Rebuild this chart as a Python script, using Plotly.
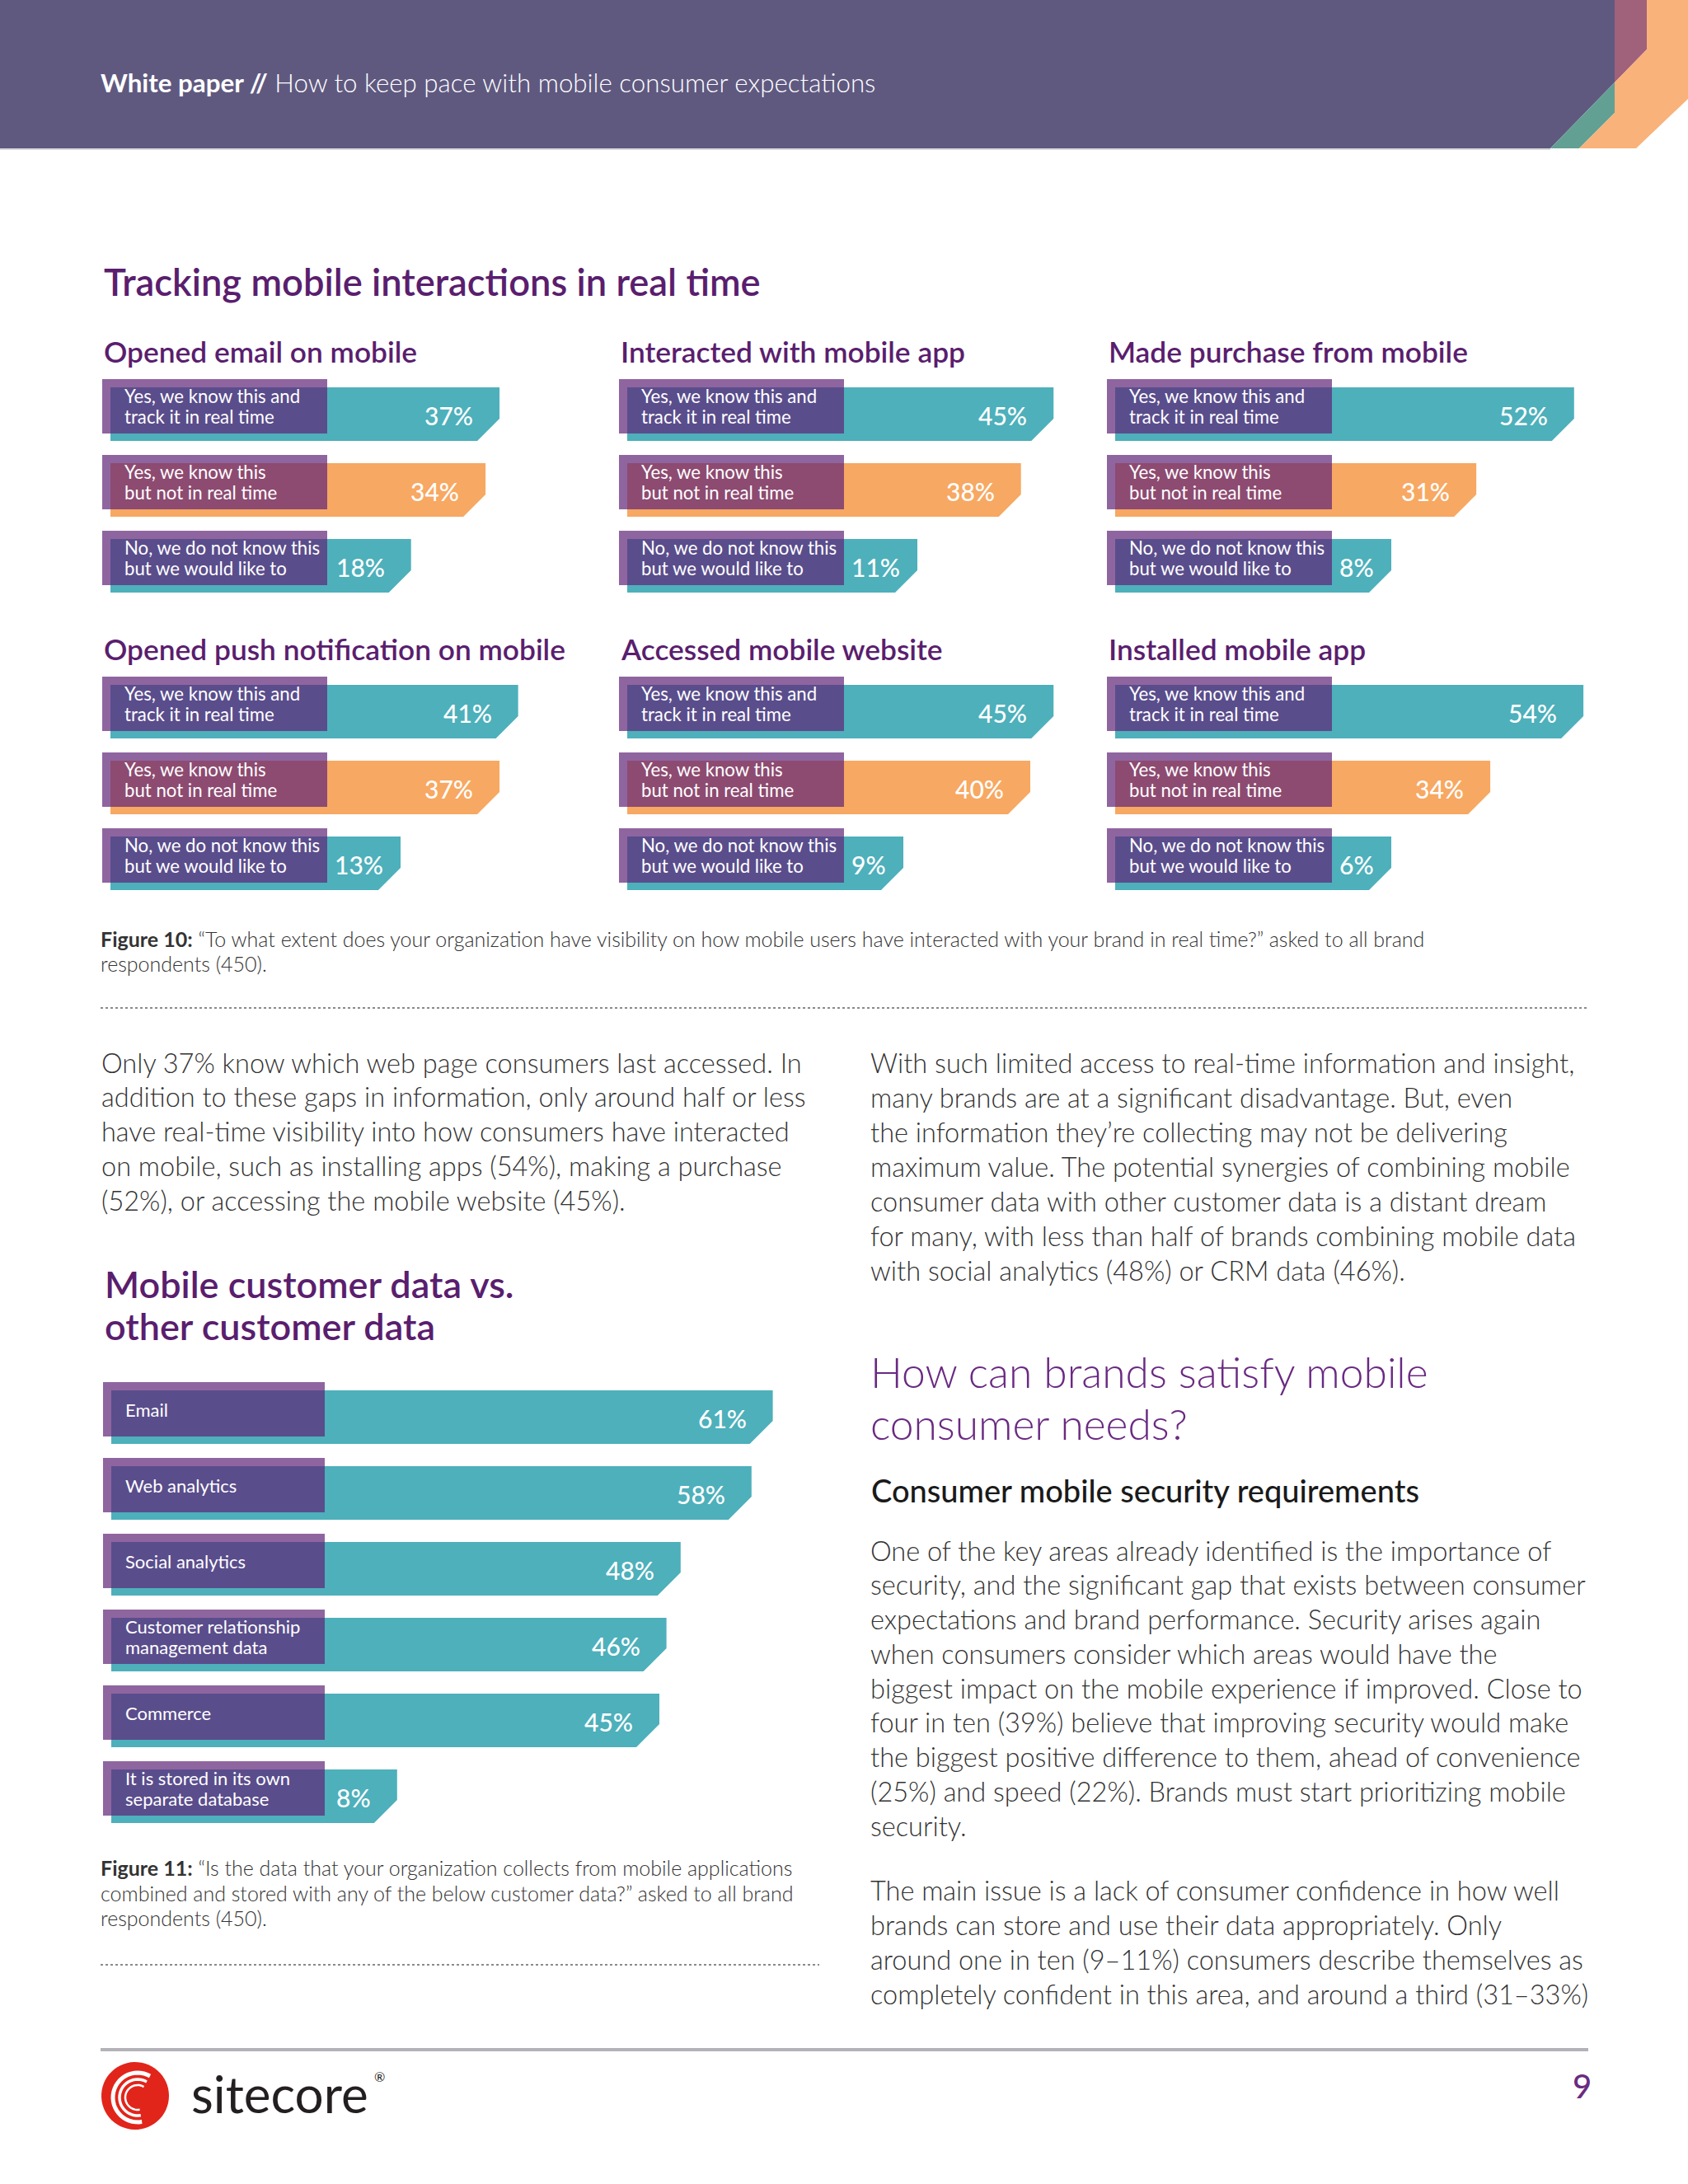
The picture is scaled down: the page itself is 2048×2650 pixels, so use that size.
import numpy as np
import plotly.graph_objects as go

W, H = 2048, 2650

# ---------------- DATA ----------------
panel_titles = ["Opened email on mobile", "Interacted with mobile app", "Made purchase from mobile",
                "Opened push notification on mobile", "Accessed mobile website", "Installed mobile app"]
response_labels = ["Yes, we know this and<br>track it in real time",
                   "Yes, we know this<br>but not in real time",
                   "No, we do not know this<br>but we would like to"]
email_vals = [37, 34, 18]
app_interact_vals = [45, 38, 11]
purchase_vals = [52, 31, 8]
push_vals = [41, 37, 13]
website_vals = [45, 40, 9]
install_vals = [54, 34, 6]
panel_values = [email_vals, app_interact_vals, purchase_vals, push_vals, website_vals, install_vals]

data_categories = ["Email", "Web analytics", "Social analytics",
                   "Customer relationship<br>management data", "Commerce",
                   "It is stored in its own<br>separate database"]
data_vals = [61, 58, 48, 46, 45, 8]

# ---------------- STYLE ----------------
TEAL = "#4DB0BB"
ORANGE = "#F7A862"
BOXC = "rgba(96,35,119,0.70)"
PURPLE = "#5A1E6E"
TXT = "#333333"
FONT = "Lato"
response_colors = [TEAL, ORANGE, TEAL]

fig = go.Figure()
annotations = []
shapes = []


def fx(px):
    return px / W


def fy(py):
    return 1 - py / H


def ptext(x, y, text, size, color=TXT, weight=400, xanchor="left", family=FONT):
    annotations.append(dict(x=fx(x), y=fy(y), xref="paper", yref="paper", text=text,
                            showarrow=False, xanchor=xanchor, yanchor="middle",
                            font=dict(family=family, size=size, color=color, weight=weight)))


def ppoly(pts, color):
    path = "M " + " L ".join(f"{fx(a):.5f},{fy(b):.5f}" for a, b in pts) + " Z"
    shapes.append(dict(type="path", xref="paper", yref="paper", path=path,
                       fillcolor=color, line=dict(width=0), layer="below"))


# ---------------- HEADER ----------------
ppoly([(0, 0), (1959, 0), (1959, 100), (1881, 180), (0, 180)], "#5F5980")
ppoly([(1959, 0), (1998, 0), (1998, 60), (1959, 100)], "#A0617A")
ppoly([(1959, 100), (1959, 137), (1916, 180), (1881, 180)], "#63A094")
ppoly([(1998, 0), (2048, 0), (2048, 120), (1985, 180), (1916, 180), (1959, 137), (1959, 100), (1998, 60)], "#F8B27A")
shapes.append(dict(type="line", xref="paper", yref="paper", x0=0, x1=fx(1881), y0=fy(181), y1=fy(181),
                   line=dict(color="#D8D8DC", width=2), layer="below"))
ptext(120, 100, "<b>White paper //</b> How to keep pace with mobile consumer expectations", 31.3, "white", 300)

# ---------------- CHART BUILDER ----------------
axis_n = [0]


def add_chart(x0_px, scale, box_left, box_right, bar_left, first_bar_top, labels, values, colors,
              chamfer_px, min_rule, label_size, pct_size):
    axis_n[0] += 1
    n = axis_n[0]
    nrows = len(values)
    pitch = 92.0
    bar_h = 65.0
    P0 = box_left - 20
    P1 = x0_px + 72 * scale
    first_center = first_bar_top + bar_h / 2
    Q0 = first_center - 0.7 * pitch
    Q1 = first_center + (nrows - 1 + 0.7) * pitch
    xa = "x" if n == 1 else f"x{n}"
    ya = "y" if n == 1 else f"y{n}"
    fig.layout[f"xaxis{'' if n == 1 else n}"] = dict(domain=[fx(P0), fx(P1)],
                                                      range=[(P0 - x0_px) / scale, (P1 - x0_px) / scale],
                                                      visible=False, fixedrange=True, anchor=ya)
    fig.layout[f"yaxis{'' if n == 1 else n}"] = dict(domain=[fy(Q1), fy(Q0)],
                                                      range=[nrows - 1 + 0.7, -0.7],
                                                      visible=False, fixedrange=True, anchor=xa)
    L = (bar_left - x0_px) / scale
    c = chamfer_px / scale
    for i, (lab, v, col) in enumerate(zip(labels, values, colors)):
        pct = f"{v}%"
        length = v
        pad = 30
        if min_rule:
            min_len = (38 + 17 * len(pct)) / scale
            if v < min_len:
                length = min_len
                pad = 19
        top = i - (bar_h / 2) / pitch
        bot = i + (bar_h / 2) / pitch
        cy = chamfer_px / pitch
        fig.add_trace(go.Scatter(x=[L, length, length, length - c, L, L],
                                 y=[top, top, bot - cy, bot, bot, top],
                                 fill="toself", fillcolor=col, mode="lines", line=dict(width=0),
                                 hoverinfo="skip", xaxis=xa, yaxis=ya, showlegend=False))
        shapes.append(dict(type="rect", xref=xa, yref=ya,
                           x0=(box_left - x0_px) / scale, x1=(box_right - x0_px) / scale,
                           y0=i - 42.5 / pitch, y1=i + 23.5 / pitch,
                           fillcolor=BOXC, line=dict(width=0), layer="above"))
        lines = lab.split("<br>")
        offs = [-22.5, 2.5] if len(lines) == 2 else [-9.5]
        for ln, o in zip(lines, offs):
            annotations.append(dict(x=(box_left + 25 - x0_px) / scale, y=i + o / pitch, xref=xa, yref=ya,
                                    text=ln, showarrow=False, xanchor="left", yanchor="middle",
                                    font=dict(family=FONT, size=label_size, color="white", weight=400)))
        annotations.append(dict(x=length - pad / scale, y=i + 1 / pitch, xref=xa, yref=ya,
                                text=pct, showarrow=False, xanchor="right", yanchor="middle",
                                font=dict(family=FONT, size=pct_size, color="white", weight=500)))


# ---------------- TOP: TRACKING PANELS ----------------
ptext(124, 341, "Tracking mobile interactions in real time", 45.3, PURPLE, 600)
col_x0 = [397, 1024, 1616]
row_title_y = [426, 787]
row_bar_top = [470, 831]
for k in range(6):
    r, cidx = divmod(k, 3)
    x0 = col_x0[cidx]
    ptext(x0 - 273, row_title_y[r], panel_titles[k], 35.3, PURPLE, 600)
    add_chart(x0, 5.65, x0 - 273, x0, x0 - 263, row_bar_top[r], response_labels,
              panel_values[k], response_colors, 27, True, 22.2, 30)

ptext(120, 1139, "<b>Figure 10:</b> “To what extent does your organization have visibility on how mobile users "
                 "have interacted with your brand in real time?” asked to all brand", 25, TXT, 300)
ptext(120, 1169, "respondents (450).", 25, TXT, 300)
shapes.append(dict(type="line", xref="paper", yref="paper", x0=fx(122), x1=fx(1927), y0=fy(1223), y1=fy(1223),
                   line=dict(color="#8A8A8A", width=2, dash="dot"), layer="below"))

# ---------------- BODY TEXT ----------------
left_par = [
    "Only 37% know which web page consumers last accessed. In",
    "addition to these gaps in information, only around half or less",
    "have real-time visibility into how consumers have interacted",
    "on mobile, such as installing apps (54%), making a purchase",
    "(52%), or accessing the mobile website (45%).",
]
right_par1 = [
    "With such limited access to real-time information and insight,",
    "many brands are at a significant disadvantage. But, even",
    "the information they’re collecting may not be delivering",
    "maximum value. The potential synergies of combining mobile",
    "consumer data with other customer data is a distant dream",
    "for many, with less than half of brands combining mobile data",
    "with social analytics (48%) or CRM data (46%).",
]
right_par2 = [
    "One of the key areas already identified is the importance of",
    "security, and the significant gap that exists between consumer",
    "expectations and brand performance. Security arises again",
    "when consumers consider which areas would have the",
    "biggest impact on the mobile experience if improved. Close to",
    "four in ten (39%) believe that improving security would make",
    "the biggest positive difference to them, ahead of convenience",
    "(25%) and speed (22%). Brands must start prioritizing mobile",
    "security.",
]
right_par3 = [
    "The main issue is a lack of consumer confidence in how well",
    "brands can store and use their data appropriately. Only",
    "around one in ten (9–11%) consumers describe themselves as",
    "completely confident in this area, and around a third (31–33%)",
]
BODY = 32.5
for j, t in enumerate(left_par):
    ptext(121, 1289 + j * 41.9, t, BODY, TXT, 300)
for j, t in enumerate(right_par1):
    ptext(1054, 1289 + j * 42.0, t, BODY, TXT, 300)
ptext(1054, 1664, "How can brands satisfy mobile", 51.5, "#6A2A82", 300)
ptext(1054, 1727, "consumer needs?", 51.5, "#6A2A82", 300)
ptext(1055, 1808, "Consumer mobile security requirements", 38, "#1A1A1A", 500)
for j, t in enumerate(right_par2):
    ptext(1054, 1881 + j * 41.75, t, BODY, TXT, 300)
for j, t in enumerate(right_par3):
    ptext(1054, 2293 + j * 42.3, t, BODY, TXT, 300)

# ---------------- BOTTOM CHART ----------------
ptext(125, 1558, "Mobile customer data vs.", 45, PURPLE, 600)
ptext(125, 1609, "other customer data", 45, PURPLE, 600)
add_chart(413, 8.6, 125, 394, 135, 1687, data_categories, data_vals, [TEAL] * 6, 28, False, 22, 30)
ptext(120, 2266, "<b>Figure 11:</b> “Is the data that your organization collects from mobile applications", 25, TXT, 300)
ptext(120, 2297, "combined and stored with any of the below customer data?” asked to all brand", 25, TXT, 300)
ptext(120, 2327, "respondents (450).", 25, TXT, 300)
shapes.append(dict(type="line", xref="paper", yref="paper", x0=fx(122), x1=fx(994), y0=fy(2384), y1=fy(2384),
                   line=dict(color="#8A8A8A", width=2, dash="dot"), layer="below"))

# ---------------- FOOTER ----------------
shapes.append(dict(type="line", xref="paper", yref="paper", x0=fx(122), x1=fx(1927), y0=fy(2487), y1=fy(2487),
                   line=dict(color="#B2B2B8", width=4), layer="below"))
cx, cy, R = 164, 2543, 41
t = np.linspace(0, 2 * np.pi, 60)
ppoly([(cx + R * np.cos(a), cy + R * np.sin(a)) for a in t], "#E1251B")
for rr, w in [(30, 5), (22, 3.5), (15, 2.5)]:
    a = np.linspace(np.radians(80), np.radians(300), 30)
    pts = [(cx + 3 + rr * np.cos(v), cy + 2 + rr * np.sin(v)) for v in a]
    path = "M " + " L ".join(f"{fx(p):.5f},{fy(q):.5f}" for p, q in pts)
    shapes.append(dict(type="path", xref="paper", yref="paper", path=path,
                       line=dict(color="white", width=w), layer="below"))
ptext(230, 2540, "sitecore", 62, "#231F20", 400)
ptext(452, 2519, "®", 16, "#231F20", 400)
ptext(1933, 2531, "9", 40, "#6A2C80", 500, xanchor="right")

fig.update_layout(width=W, height=H, margin=dict(l=0, r=0, t=0, b=0), paper_bgcolor="white",
                  plot_bgcolor="rgba(0,0,0,0)", showlegend=False,
                  annotations=annotations, shapes=shapes)
fig.write_html("out.html", config={"displayModeBar": False},
               post_script="document.body.style.margin='0';")
